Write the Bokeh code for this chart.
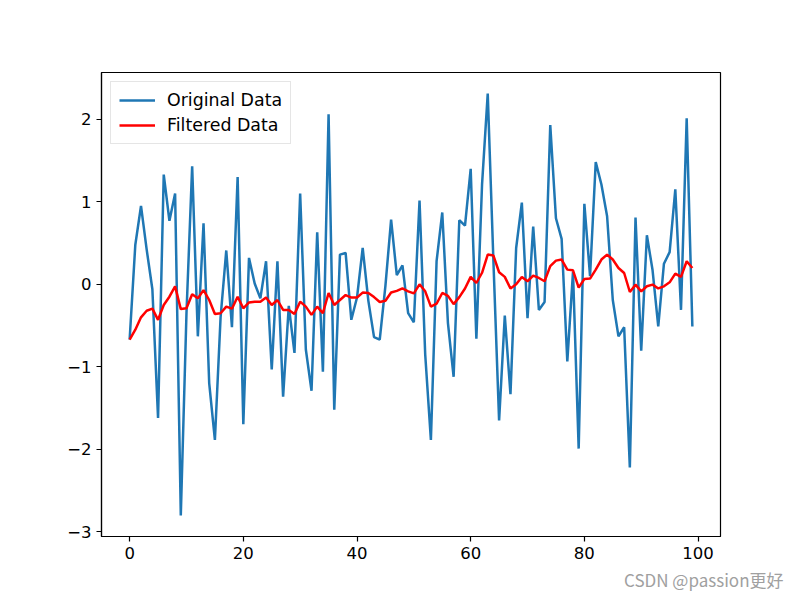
from bokeh.plotting import figure
from bokeh.models import FixedTicker, Range1d, Legend, LegendItem, Title
from bokeh.embed import file_html
from bokeh.resources import INLINE

x_index = list(range(100))

original = [
    -0.67, 0.48, 0.95, 0.42, -0.06, -1.62, 1.33, 0.77, 1.10, -2.80,
    -0.35, 1.43, -0.63, 0.74, -1.20, -1.885, -0.40, 0.41, -0.52, 1.30,
    -1.695, 0.32, 0.01, -0.17, 0.28, -1.03, 0.28, -1.36, -0.26, -0.83,
    1.10, -0.79, -1.29, 0.63, -1.06, 2.06, -1.52, 0.36, 0.38, -0.43,
    -0.16, 0.44, -0.20, -0.64, -0.67, -0.02, 0.785, 0.11, 0.23, -0.35,
    -0.46, 1.015, -0.85, -1.885, 0.28, 0.87, -0.47, -1.12, 0.777, 0.71,
    1.40, -0.66, 1.21, 2.31, 0.28, -1.65, -0.38, -1.33, 0.44, 0.99,
    -0.41, 0.70, -0.31, -0.215, 1.93, 0.80, 0.55, -0.935, 0.15, -1.99,
    0.975, 0.10, 1.48, 1.21, 0.825, -0.19, -0.63, -0.52, -2.22, 0.81,
    -0.805, 0.595, 0.17, -0.51, 0.25, 0.39, 1.15, -0.31, 2.01, -0.51,
]

filtered = [
    -0.67, -0.55, -0.40, -0.32, -0.295, -0.43, -0.25, -0.15, -0.025, -0.30,
    -0.29, -0.12, -0.17, -0.07, -0.19, -0.36, -0.35, -0.27, -0.295, -0.15,
    -0.29, -0.22, -0.21, -0.21, -0.16, -0.25, -0.19, -0.31, -0.31, -0.36,
    -0.21, -0.27, -0.37, -0.27, -0.35, -0.105, -0.25, -0.19, -0.13, -0.16,
    -0.16, -0.10, -0.105, -0.155, -0.215, -0.20, -0.10, -0.08, -0.05, -0.085,
    -0.11, 0.00, -0.085, -0.27, -0.235, -0.105, -0.14, -0.24, -0.155, -0.05,
    0.09, 0.016, 0.14, 0.36, 0.348, 0.146, 0.09, -0.05, 0.00, 0.09,
    0.037, 0.105, 0.077, 0.037, 0.22, 0.287, 0.30, 0.178, 0.17, -0.04,
    0.065, 0.069, 0.178, 0.30, 0.36, 0.30, 0.198, 0.137, -0.093, -0.004,
    -0.085, -0.024, -0.004, -0.05, -0.024, 0.024, 0.13, 0.09, 0.28, 0.198,
]

x_ticks = [0, 20, 40, 60, 80, 100]
y_ticks = [-3, -2, -1, 0, 1, 2]
y_tick_labels = ["\u22123", "\u22122", "\u22121", "0", "1", "2"]
legend_labels = ["Original Data", "Filtered Data"]
watermark = "CSDN @passion更好"

FONT = "DejaVu Sans"

p = figure(width=799, height=599, output_backend="svg", toolbar_location=None,
           x_range=Range1d(-4.95, 103.95), y_range=Range1d(-3.055, 2.566),
           min_border_left=101, min_border_right=79, min_border_top=72,
           min_border_bottom=63)
p.background_fill_color = "white"
p.border_fill_color = "white"
p.outline_line_color = "black"
p.outline_line_width = 1.2
p.xgrid.visible = False
p.ygrid.visible = False

for ax in (p.xaxis[0], p.yaxis[0]):
    ax.axis_line_color = "black"
    ax.axis_line_width = 1.2
    ax.major_tick_line_color = "black"
    ax.major_tick_line_width = 1.2
    ax.major_tick_out = 5
    ax.major_tick_in = 0
    ax.minor_tick_line_color = None
    ax.major_label_text_font = FONT
    ax.major_label_text_font_size = "16.5px"
    ax.major_label_text_color = "black"
    ax.major_label_standoff = 5

p.xaxis[0].ticker = FixedTicker(ticks=x_ticks)
p.yaxis[0].ticker = FixedTicker(ticks=y_ticks)
p.yaxis[0].major_label_overrides = {t: l for t, l in zip(y_ticks, y_tick_labels)}

r1 = p.line(x_index, original, line_color="#1f77b4", line_width=2.5)
r2 = p.line(x_index, filtered, line_color="red", line_width=2.5)

legend = Legend(items=[LegendItem(label=legend_labels[0], renderers=[r1]),
                       LegendItem(label=legend_labels[1], renderers=[r2])],
                location="top_left")
legend.margin = 9
legend.padding = 8
legend.spacing = 5
legend.glyph_width = 36
legend.glyph_height = 20
legend.label_standoff = 12
legend.label_text_font = FONT
legend.label_text_font_size = "17.4px"
legend.label_text_color = "black"
legend.border_line_color = "#cccccc"
legend.border_line_width = 1.2
legend.background_fill_alpha = 0.8
p.add_layout(legend)

wm = Title(text=watermark, align="right", offset=-63, standoff=7,
           text_font="Noto Sans CJK SC", text_font_size="17px",
           text_font_style="normal", text_color="#a0a0a0")
p.add_layout(wm, "below")

open("out.html", "w").write(file_html(p, INLINE))
